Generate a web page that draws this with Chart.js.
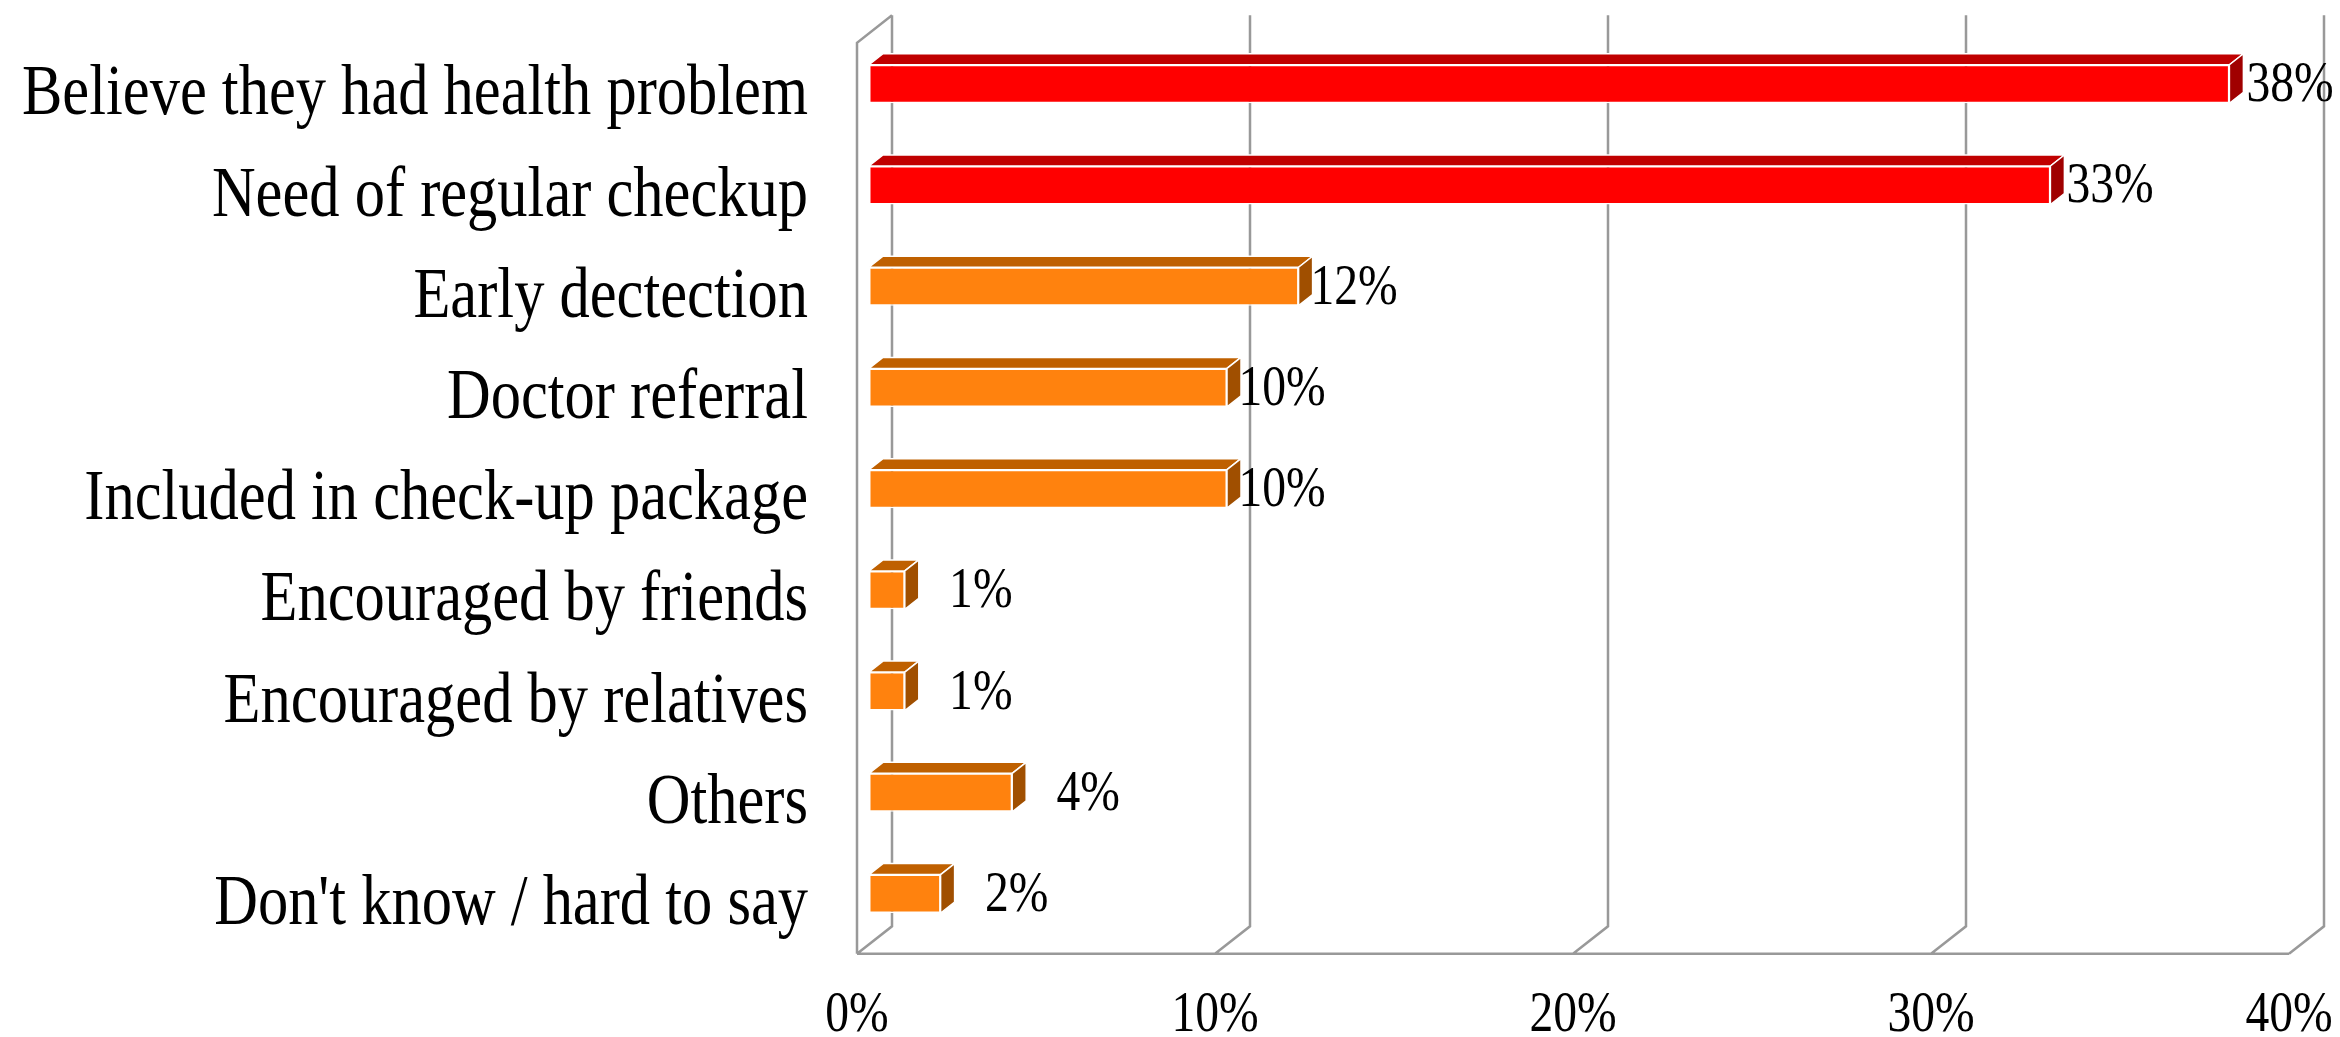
<!DOCTYPE html>
<html>
<head>
<meta charset="utf-8">
<script src="https://cdn.jsdelivr.net/npm/chart.js@4/dist/chart.umd.min.js"></script>
<style>
  html, body { margin: 0; padding: 0; background: #fff; }
  #wrap { width: 2340px; height: 1037px; }
</style>
</head>
<body>
<div id="wrap"><canvas id="chart" width="2340" height="1037"></canvas></div>
<script>
const categories = [
  'Believe they had health problem',
  'Need of regular checkup',
  'Early dectection',
  'Doctor referral',
  'Included in check-up package',
  'Encouraged by friends',
  'Encouraged by relatives',
  'Others',
  "Don't know / hard to say",
];
const values = [38, 33, 12, 10, 10, 1, 1, 4, 2];
const xTicks = [0, 10, 20, 30, 40];

const FONT = '"Liberation Serif", "Times New Roman", serif';
// 3D offsets measured from the plane of the bar front faces
const FRONT = { dx: -12, dy: 9.4 };
const BACK = { dx: 23, dy: -18.1 };
const BAR_DEPTH = { dx: 14, dy: -11 };
const GRID = '#999999';

const isHot = (v) => v >= 30;

// the original font is a narrow Times-like face, so squeeze it sideways
function squeezedText(ctx, text, x, y, align, size, squeeze) {
  ctx.save();
  ctx.font = size + 'px ' + FONT;
  ctx.fillStyle = '#000';
  ctx.textAlign = align;
  ctx.textBaseline = 'middle';
  ctx.translate(x, y);
  ctx.scale(squeeze, 1);
  ctx.fillText(text, 0, 0);
  ctx.restore();
}

const frame3d = {
  id: 'frame3d',
  beforeDatasetsDraw(chart) {
    const { ctx, chartArea: a, scales: { x } } = chart;
    ctx.save();

    // back wall gridlines, floor diagonals, left wall
    ctx.strokeStyle = GRID;
    ctx.lineWidth = 2.5;
    const topB = a.top + BACK.dy, botB = a.bottom + BACK.dy;
    const topF = a.top + FRONT.dy, botF = a.bottom + FRONT.dy;
    ctx.beginPath();
    xTicks.forEach((v) => {
      const px = x.getPixelForValue(v);
      ctx.moveTo(px + BACK.dx, topB);
      ctx.lineTo(px + BACK.dx, botB);
      ctx.lineTo(px + FRONT.dx, botF);
    });
    const x0 = x.getPixelForValue(xTicks[0]);
    const x1 = x.getPixelForValue(xTicks[xTicks.length - 1]);
    ctx.moveTo(x0 + FRONT.dx, botF);
    ctx.lineTo(x1 + FRONT.dx, botF);
    ctx.moveTo(x0 + BACK.dx, topB);
    ctx.lineTo(x0 + FRONT.dx, topF);
    ctx.lineTo(x0 + FRONT.dx, botF);
    ctx.stroke();

    // top and end faces of the bars
    const meta = chart.getDatasetMeta(0);
    ctx.strokeStyle = '#ffffff';
    ctx.lineWidth = 1.5;
    ctx.lineJoin = 'round';
    meta.data.forEach((bar, i) => {
      const { x: xe, y, base, height } = bar.getProps(['x', 'y', 'base', 'height'], true);
      const t = y - height / 2, b = y + height / 2;
      const hot = isHot(values[i]);

      ctx.fillStyle = hot ? '#c00000' : '#bf6000';
      ctx.beginPath();
      ctx.moveTo(base, t);
      ctx.lineTo(base + BAR_DEPTH.dx, t + BAR_DEPTH.dy);
      ctx.lineTo(xe + BAR_DEPTH.dx, t + BAR_DEPTH.dy);
      ctx.lineTo(xe, t);
      ctx.closePath();
      ctx.fill();
      ctx.stroke();

      ctx.fillStyle = hot ? '#a00000' : '#a04f00';
      ctx.beginPath();
      ctx.moveTo(xe, t);
      ctx.lineTo(xe + BAR_DEPTH.dx, t + BAR_DEPTH.dy);
      ctx.lineTo(xe + BAR_DEPTH.dx, b + BAR_DEPTH.dy);
      ctx.lineTo(xe, b);
      ctx.closePath();
      ctx.fill();
      ctx.stroke();
    });
    ctx.restore();
  },
  afterDatasetsDraw(chart) {
    const { ctx, chartArea: a, scales: { x, y } } = chart;

    // category labels, on the front plane
    categories.forEach((c, i) => {
      squeezedText(ctx, c, 808, y.getPixelForValue(i) + FRONT.dy + 2, 'right', 72, 0.84);
    });

    // value labels (short bars get pushed a bit further out, as in the original)
    const meta = chart.getDatasetMeta(0);
    meta.data.forEach((bar, i) => {
      const { x: xe, y: yc } = bar.getProps(['x', 'y'], true);
      const gap = values[i] < 5 ? 76 : 53 + values[i] * 0.2;
      squeezedText(ctx, values[i] + '%', xe + gap, yc + 2, 'center', 58, 0.82);
    });

    // value axis ticks, on the front edge of the floor
    xTicks.forEach((v) => {
      squeezedText(ctx, v + '%', x.getPixelForValue(v) + FRONT.dx, a.bottom + 71, 'center', 58, 0.82);
    });
  },
};

const ctx = document.getElementById('chart').getContext('2d');
new Chart(ctx, {
  type: 'bar',
  data: {
    labels: categories,
    datasets: [{
      data: values,
      backgroundColor: values.map((v) => (isHot(v) ? '#ff0000' : '#ff820e')),
      borderColor: '#ffffff',
      borderWidth: 1.5,
      borderSkipped: false,
      barPercentage: 0.38,
      categoryPercentage: 1,
    }],
  },
  options: {
    indexAxis: 'y',
    responsive: false,
    devicePixelRatio: 1,
    animation: false,
    layout: { padding: { left: 869, right: 39, top: 33.4, bottom: 92.6 } },
    plugins: { legend: { display: false }, tooltip: { enabled: false } },
    scales: {
      x: { display: false, min: 0, max: 40 },
      y: { display: false },
    },
  },
  plugins: [frame3d],
});
</script>
</body>
</html>
